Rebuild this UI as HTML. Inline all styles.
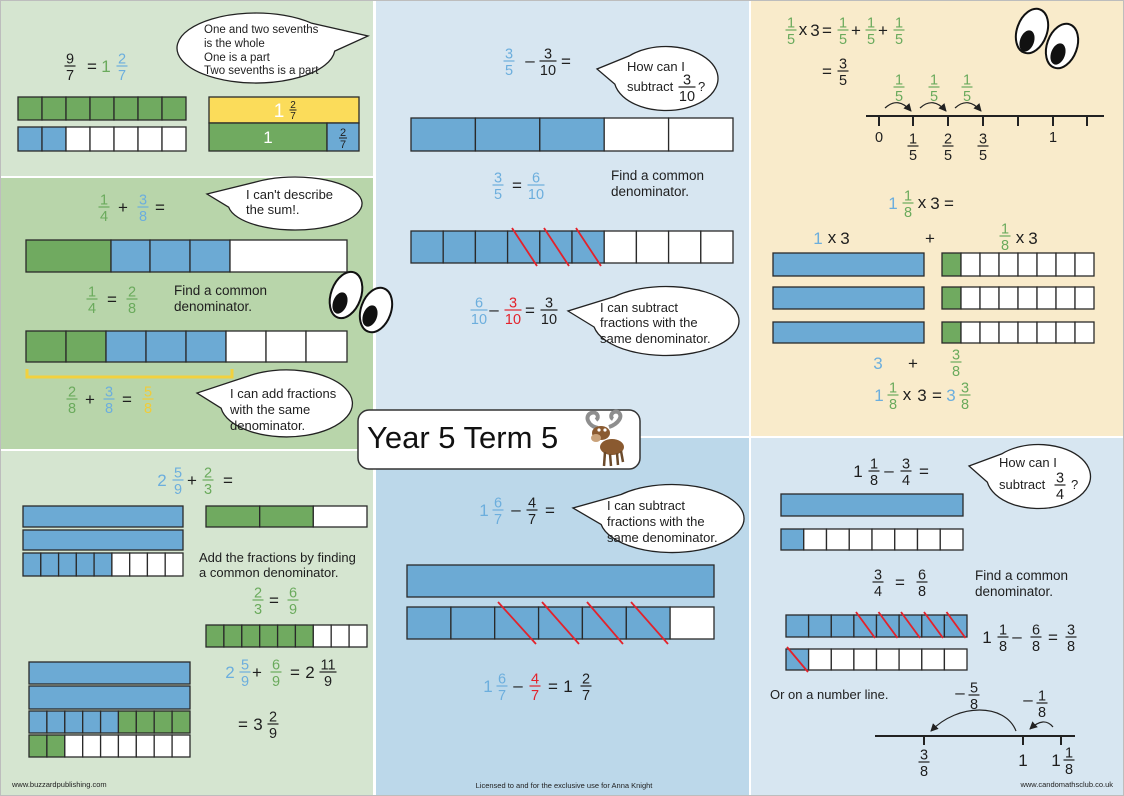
<!DOCTYPE html>
<html><head><meta charset="utf-8">
<style>
html,body{margin:0;padding:0;background:#fff;}
svg{display:block}
text{font-family:"Liberation Sans",sans-serif;}
.f{font-size:14.5px;text-anchor:middle}
.o{font-size:17px;text-anchor:middle}
.t{font-size:13px;fill:#1e1e1e}
.g{fill:#6aaa5c}.b{fill:#6caedd}.k{fill:#1e1e1e}.r{fill:#e3222b}.y{fill:#f0cc3a}.w{fill:#fff}
.c rect{stroke:#2a2a2a;stroke-width:1.3}
.G{fill:#70aa60}.B{fill:#6caad4}.W{fill:#fff}
.s line{stroke:#e3222b;stroke-width:1.8}
.bub{fill:#fff;stroke:#222;stroke-width:1.3}
.eye{fill:#fff;stroke:#111;stroke-width:2}
.ln{stroke:#222;stroke-width:2;fill:none}
.ar{stroke:#222;stroke-width:1.2;fill:none}
</style></head><body>
<svg width="1124" height="796" viewBox="0 0 1124 796" xmlns="http://www.w3.org/2000/svg">
<defs>
<marker id="ah" markerWidth="8" markerHeight="8" refX="7" refY="4" orient="auto" markerUnits="userSpaceOnUse"><path d="M0,0 L8,4 L0,8 Z" fill="#222"/></marker>
</defs>
<!-- panels -->
<rect x="0" y="0" width="373" height="176" fill="#d5e5d0"/>
<rect x="0" y="178" width="373" height="271" fill="#b8d5aa"/>
<rect x="0" y="451" width="373" height="345" fill="#d5e5d0"/>
<rect x="376" y="0" width="373" height="436" fill="#d7e6f1"/>
<rect x="376" y="438" width="373" height="358" fill="#bcd8ea"/>
<rect x="751" y="0" width="373" height="436" fill="#f9ebcb"/>
<rect x="751" y="438" width="373" height="358" fill="#d7e6f1"/>
<rect x="0.5" y="0.5" width="1123" height="795" fill="none" stroke="#bdbdbd" stroke-width="1"/>

<!-- ===== TOP LEFT ===== -->
<g class="k f"><text x="70" y="63.5">9</text><rect x="64.5" y="65.4" width="11" height="1.2"/><text x="70" y="80">7</text></g>
<text class="o k" x="92" y="72">=</text>
<text class="o g" x="106" y="72">1</text>
<g class="b f"><text x="122" y="63.5">2</text><rect x="116.5" y="65.4" width="11" height="1.2"/><text x="122" y="80">7</text></g>

<path class="bub" d="M311.9 23.3 A79 35 0 1 0 334.7 51.1 L368 36 Z"/>
<g class="t" style="font-size:11.5px">
<text x="204" y="33">One and two sevenths</text>
<text x="204" y="47">is the whole</text>
<text x="204" y="61">One is a part</text>
<text x="204" y="74">Two sevenths is a part</text>
</g>

<g class="c">
<rect class="G" x="18" y="97" width="24" height="23"/><rect class="G" x="42" y="97" width="24" height="23"/><rect class="G" x="66" y="97" width="24" height="23"/><rect class="G" x="90" y="97" width="24" height="23"/><rect class="G" x="114" y="97" width="24" height="23"/><rect class="G" x="138" y="97" width="24" height="23"/><rect class="G" x="162" y="97" width="24" height="23"/>
<rect class="B" x="18" y="127" width="24" height="24"/><rect class="B" x="42" y="127" width="24" height="24"/><rect class="W" x="66" y="127" width="24" height="24"/><rect class="W" x="90" y="127" width="24" height="24"/><rect class="W" x="114" y="127" width="24" height="24"/><rect class="W" x="138" y="127" width="24" height="24"/><rect class="W" x="162" y="127" width="24" height="24"/>
<rect x="209" y="97" width="150" height="26" fill="#fbdc5a"/>
<rect class="G" x="209" y="123" width="118" height="28"/>
<rect class="B" x="327" y="123" width="32" height="28"/>
</g>
<text class="w" x="279" y="117" style="font-size:19px;text-anchor:middle">1</text>
<g class="k" style="font-size:10px;text-anchor:middle"><text x="293" y="108">2</text><rect x="289.5" y="109.5" width="7" height="1"/><text x="293" y="119">7</text></g>
<text class="w" x="268" y="143" style="font-size:17px;text-anchor:middle">1</text>
<g class="k" style="font-size:11px;text-anchor:middle"><text x="343" y="136">2</text><rect x="339" y="137.5" width="8" height="1"/><text x="343" y="148">7</text></g>

<!-- ===== MIDDLE LEFT ===== -->
<g class="g f"><text x="104" y="204.5">1</text><rect x="98.5" y="206.4" width="11" height="1.2"/><text x="104" y="221">4</text></g>
<text class="o k" x="123" y="213">+</text>
<g class="b f"><text x="143" y="204.5">3</text><rect x="137.5" y="206.4" width="11" height="1.2"/><text x="143" y="221">8</text></g>
<text class="o k" x="160" y="213">=</text>

<path class="bub" d="M228.7 207.2 A67 26.5 0 1 0 256.6 181.8 L207 194 Z"/>
<g class="t"><text x="246" y="199">I can't describe</text><text x="246" y="214">the sum!.</text></g>

<g class="c">
<rect class="G" x="26" y="240" width="85" height="32"/><rect class="B" x="111" y="240" width="39" height="32"/><rect class="B" x="150" y="240" width="40" height="32"/><rect class="B" x="190" y="240" width="40" height="32"/><rect class="W" x="230" y="240" width="117" height="32"/>
</g>

<g class="g f"><text x="92" y="296.5">1</text><rect x="86.5" y="298.4" width="11" height="1.2"/><text x="92" y="313">4</text></g>
<text class="o k" x="112" y="305">=</text>
<g class="g f"><text x="132" y="296.5">2</text><rect x="126.5" y="298.4" width="11" height="1.2"/><text x="132" y="313">8</text></g>
<g class="t" style="font-size:13.5px"><text x="174" y="295">Find a common</text><text x="174" y="311">denominator.</text></g>

<g class="c">
<rect class="G" x="26" y="331" width="40" height="31"/><rect class="G" x="66" y="331" width="40" height="31"/><rect class="B" x="106" y="331" width="40" height="31"/><rect class="B" x="146" y="331" width="40" height="31"/><rect class="B" x="186" y="331" width="40" height="31"/><rect class="W" x="226" y="331" width="40" height="31"/><rect class="W" x="266" y="331" width="40" height="31"/><rect class="W" x="306" y="331" width="41" height="31"/>
</g>
<path d="M27 369 V377 H232 V369" fill="none" stroke="#f2d13f" stroke-width="3"/>

<g class="g f"><text x="72" y="396.5">2</text><rect x="66.5" y="398.4" width="11" height="1.2"/><text x="72" y="413">8</text></g>
<text class="o k" x="90" y="405">+</text>
<g class="b f"><text x="109" y="396.5">3</text><rect x="103.5" y="398.4" width="11" height="1.2"/><text x="109" y="413">8</text></g>
<text class="o k" x="127" y="405">=</text>
<g class="y f"><text x="148" y="396.5">5</text><rect x="142.5" y="398.4" width="11" height="1.2"/><text x="148" y="413">8</text></g>

<path class="bub" d="M221.1 408.2 A66 33.5 0 1 0 248.2 376.1 L197 393 Z"/>
<g class="t"><text x="230" y="398">I can add fractions</text><text x="230" y="414">with the same</text><text x="230" y="430">denominator.</text></g>

<!-- ===== BOTTOM LEFT ===== -->
<text class="o b" x="162" y="486">2</text>
<g class="b f"><text x="178" y="477.5">5</text><rect x="172.5" y="479.4" width="11" height="1.2"/><text x="178" y="494">9</text></g>
<text class="o k" x="192" y="486">+</text>
<g class="g f"><text x="208" y="477.5">2</text><rect x="202.5" y="479.4" width="11" height="1.2"/><text x="208" y="494">3</text></g>
<text class="o k" x="228" y="486">=</text>

<g class="c">
<rect class="B" x="23" y="506" width="160" height="21"/>
<rect class="B" x="23" y="530" width="160" height="20"/>
<rect class="B" x="23" y="553" width="17.8" height="23"/><rect class="B" x="40.8" y="553" width="17.8" height="23"/><rect class="B" x="58.6" y="553" width="17.8" height="23"/><rect class="B" x="76.3" y="553" width="17.8" height="23"/><rect class="B" x="94.1" y="553" width="17.8" height="23"/><rect class="W" x="111.9" y="553" width="17.8" height="23"/><rect class="W" x="129.7" y="553" width="17.8" height="23"/><rect class="W" x="147.4" y="553" width="17.8" height="23"/><rect class="W" x="165.2" y="553" width="17.8" height="23"/>
<rect class="G" x="206" y="506" width="53.7" height="21"/><rect class="G" x="259.7" y="506" width="53.6" height="21"/><rect class="W" x="313.3" y="506" width="53.7" height="21"/>
<rect class="G" x="206" y="625" width="17.9" height="22"/><rect class="G" x="223.9" y="625" width="17.9" height="22"/><rect class="G" x="241.8" y="625" width="17.9" height="22"/><rect class="G" x="259.7" y="625" width="17.9" height="22"/><rect class="G" x="277.6" y="625" width="17.9" height="22"/><rect class="G" x="295.4" y="625" width="17.9" height="22"/><rect class="W" x="313.3" y="625" width="17.9" height="22"/><rect class="W" x="331.2" y="625" width="17.9" height="22"/><rect class="W" x="349.1" y="625" width="17.9" height="22"/>
<rect class="B" x="29" y="662" width="161" height="22"/>
<rect class="B" x="29" y="686" width="161" height="23"/>
<rect class="B" x="29" y="711" width="17.9" height="22"/><rect class="B" x="46.9" y="711" width="17.9" height="22"/><rect class="B" x="64.8" y="711" width="17.9" height="22"/><rect class="B" x="82.7" y="711" width="17.9" height="22"/><rect class="B" x="100.6" y="711" width="17.9" height="22"/><rect class="G" x="118.4" y="711" width="17.9" height="22"/><rect class="G" x="136.3" y="711" width="17.9" height="22"/><rect class="G" x="154.2" y="711" width="17.9" height="22"/><rect class="G" x="172.1" y="711" width="17.9" height="22"/>
<rect class="G" x="29" y="735" width="17.9" height="22"/><rect class="G" x="46.9" y="735" width="17.9" height="22"/><rect class="W" x="64.8" y="735" width="17.9" height="22"/><rect class="W" x="82.7" y="735" width="17.9" height="22"/><rect class="W" x="100.6" y="735" width="17.9" height="22"/><rect class="W" x="118.4" y="735" width="17.9" height="22"/><rect class="W" x="136.3" y="735" width="17.9" height="22"/><rect class="W" x="154.2" y="735" width="17.9" height="22"/><rect class="W" x="172.1" y="735" width="17.9" height="22"/>
</g>

<g class="t"><text x="199" y="562">Add the fractions by finding</text><text x="199" y="577">a common denominator.</text></g>

<g class="g f"><text x="258" y="597.5">2</text><rect x="252.5" y="599.4" width="11" height="1.2"/><text x="258" y="614">3</text></g>
<text class="o k" x="274" y="606">=</text>
<g class="g f"><text x="293" y="597.5">6</text><rect x="287.5" y="599.4" width="11" height="1.2"/><text x="293" y="614">9</text></g>

<text class="o b" x="230" y="678">2</text>
<g class="b f"><text x="245" y="669.5">5</text><rect x="239.5" y="671.4" width="11" height="1.2"/><text x="245" y="686">9</text></g>
<text class="o k" x="257" y="678">+</text>
<g class="g f"><text x="276" y="669.5">6</text><rect x="270.5" y="671.4" width="11" height="1.2"/><text x="276" y="686">9</text></g>
<text class="o k" x="295" y="678">=</text>
<text class="o k" x="310" y="678">2</text>
<g class="k f"><text x="328" y="669.5">11</text><rect x="319.5" y="671.4" width="17" height="1.2"/><text x="328" y="686">9</text></g>

<text class="o k" x="243" y="730">=</text>
<text class="o k" x="258" y="730">3</text>
<g class="k f"><text x="273" y="721.5">2</text><rect x="267.5" y="723.4" width="11" height="1.2"/><text x="273" y="738">9</text></g>

<text x="12" y="787" style="font-size:7.5px;fill:#222">www.buzzardpublishing.com</text>

<!-- ===== TOP MIDDLE ===== -->
<g class="b f"><text x="509" y="58.5">3</text><rect x="503.5" y="60.4" width="11" height="1.2"/><text x="509" y="75">5</text></g>
<text class="o k" x="530" y="66">–</text>
<g class="k f"><text x="548" y="58.5">3</text><rect x="539.5" y="60.4" width="17" height="1.2"/><text x="548" y="75">10</text></g>
<text class="o k" x="566" y="67">=</text>

<path class="bub" d="M614.8 84.1 A52 32 0 1 0 629.2 55.9 L597 69 Z"/>
<g class="t"><text x="627" y="71">How can I</text><text x="627" y="91">subtract</text><text x="698" y="91">?</text></g>
<g class="k f"><text x="687" y="84.5">3</text><rect x="678.5" y="86.4" width="17" height="1.2"/><text x="687" y="101">10</text></g>

<g class="c">
<rect class="B" x="411" y="118" width="64.4" height="33"/><rect class="B" x="475.4" y="118" width="64.4" height="33"/><rect class="B" x="539.8" y="118" width="64.4" height="33"/><rect class="W" x="604.2" y="118" width="64.4" height="33"/><rect class="W" x="668.6" y="118" width="64.4" height="33"/>
</g>

<g class="b f"><text x="498" y="182.5">3</text><rect x="492.5" y="184.4" width="11" height="1.2"/><text x="498" y="199">5</text></g>
<text class="o k" x="517" y="191">=</text>
<g class="b f"><text x="536" y="182.5">6</text><rect x="527.5" y="184.4" width="17" height="1.2"/><text x="536" y="199">10</text></g>
<g class="t" style="font-size:13.5px"><text x="611" y="180">Find a common</text><text x="611" y="196">denominator.</text></g>

<g class="c">
<rect class="B" x="411" y="231" width="32.2" height="32"/><rect class="B" x="443.2" y="231" width="32.2" height="32"/><rect class="B" x="475.4" y="231" width="32.2" height="32"/><rect class="B" x="507.6" y="231" width="32.2" height="32"/><rect class="B" x="539.8" y="231" width="32.2" height="32"/><rect class="B" x="572" y="231" width="32.2" height="32"/><rect class="W" x="604.2" y="231" width="32.2" height="32"/><rect class="W" x="636.4" y="231" width="32.2" height="32"/><rect class="W" x="668.6" y="231" width="32.2" height="32"/><rect class="W" x="700.8" y="231" width="32.2" height="32"/>
</g>
<g class="s"><line x1="512" y1="228" x2="537" y2="266"/><line x1="544" y1="228" x2="569" y2="266"/><line x1="576" y1="228" x2="601" y2="266"/></g>

<g class="b f"><text x="479" y="307.5">6</text><rect x="470.5" y="309.4" width="17" height="1.2"/><text x="479" y="324">10</text></g>
<text class="o k" x="494" y="315">–</text>
<g class="r f"><text x="513" y="307.5">3</text><rect x="504.5" y="309.4" width="17" height="1.2"/><text x="513" y="324">10</text></g>
<text class="o k" x="530" y="316">=</text>
<g class="k f"><text x="549" y="307.5">3</text><rect x="540.5" y="309.4" width="17" height="1.2"/><text x="549" y="324">10</text></g>

<path class="bub" d="M594.1 327 A73 34.5 0 1 0 614.4 296.6 L568 311 Z"/>
<g class="t"><text x="600" y="312">I can subtract</text><text x="600" y="327">fractions with the</text><text x="600" y="343">same denominator.</text></g>

<!-- ===== BOTTOM MIDDLE ===== -->
<text class="o b" x="484" y="516">1</text>
<g class="b f"><text x="498" y="507.5">6</text><rect x="492.5" y="509.4" width="11" height="1.2"/><text x="498" y="524">7</text></g>
<text class="o k" x="516" y="515">–</text>
<g class="k f"><text x="532" y="507.5">4</text><rect x="526.5" y="509.4" width="11" height="1.2"/><text x="532" y="524">7</text></g>
<text class="o k" x="550" y="516">=</text>

<path class="bub" d="M601.1 524.4 A72 34 0 1 0 621.1 494.5 L573 508 Z"/>
<g class="t"><text x="607" y="510">I can subtract</text><text x="607" y="526">fractions with the</text><text x="607" y="542">same denominator.</text></g>

<g class="c">
<rect class="B" x="407" y="565" width="307" height="32"/>
<rect class="B" x="407" y="607" width="43.9" height="32"/><rect class="B" x="450.9" y="607" width="43.8" height="32"/><rect class="B" x="494.7" y="607" width="43.9" height="32"/><rect class="B" x="538.6" y="607" width="43.8" height="32"/><rect class="B" x="582.4" y="607" width="43.9" height="32"/><rect class="B" x="626.3" y="607" width="43.8" height="32"/><rect class="W" x="670.1" y="607" width="43.9" height="32"/>
</g>
<g class="s"><line x1="498" y1="602" x2="536" y2="644"/><line x1="542" y1="602" x2="579" y2="644"/><line x1="587" y1="602" x2="623" y2="644"/><line x1="631" y1="602" x2="668" y2="644"/></g>

<text class="o b" x="488" y="692">1</text>
<g class="b f"><text x="502" y="683.5">6</text><rect x="496.5" y="685.4" width="11" height="1.2"/><text x="502" y="700">7</text></g>
<text class="o k" x="518" y="691">–</text>
<g class="r f"><text x="535" y="683.5">4</text><rect x="529.5" y="685.4" width="11" height="1.2"/><text x="535" y="700">7</text></g>
<text class="o k" x="553" y="692">=</text>
<text class="o k" x="568" y="692">1</text>
<g class="k f"><text x="586" y="683.5">2</text><rect x="580.5" y="685.4" width="11" height="1.2"/><text x="586" y="700">7</text></g>

<text x="564" y="788" style="font-size:7.5px;fill:#222;text-anchor:middle">Licensed to and for the exclusive use for Anna Knight</text>

<!-- ===== TOP RIGHT ===== -->
<g class="g f"><text x="791" y="27.5">1</text><rect x="785.5" y="29.4" width="11" height="1.2"/><text x="791" y="44">5</text></g>
<text class="o k" x="803" y="35">x</text>
<text class="o k" x="815" y="36">3</text>
<text class="o k" x="827" y="36">=</text>
<g class="g f"><text x="843" y="27.5">1</text><rect x="837.5" y="29.4" width="11" height="1.2"/><text x="843" y="44">5</text></g>
<text class="o k" x="856" y="36">+</text>
<g class="g f"><text x="871" y="27.5">1</text><rect x="865.5" y="29.4" width="11" height="1.2"/><text x="871" y="44">5</text></g>
<text class="o k" x="883" y="36">+</text>
<g class="g f"><text x="899" y="27.5">1</text><rect x="893.5" y="29.4" width="11" height="1.2"/><text x="899" y="44">5</text></g>

<text class="o k" x="827" y="77">=</text>
<g class="k f"><text x="843" y="68.5">3</text><rect x="837.5" y="70.4" width="11" height="1.2"/><text x="843" y="85">5</text></g>

<g class="g f"><text x="899" y="84.5">1</text><rect x="893.5" y="86.4" width="11" height="1.2"/><text x="899" y="101">5</text></g>
<g class="g f"><text x="934" y="84.5">1</text><rect x="928.5" y="86.4" width="11" height="1.2"/><text x="934" y="101">5</text></g>
<g class="g f"><text x="967" y="84.5">1</text><rect x="961.5" y="86.4" width="11" height="1.2"/><text x="967" y="101">5</text></g>

<path class="ar" d="M885 108 Q898 96 911 111" marker-end="url(#ah)"/>
<path class="ar" d="M920 108 Q933 96 946 111" marker-end="url(#ah)"/>
<path class="ar" d="M955 108 Q968 96 981 111" marker-end="url(#ah)"/>

<line class="ln" x1="866" y1="116" x2="1104" y2="116"/>
<g class="ln"><line x1="879" y1="116" x2="879" y2="126"/><line x1="913" y1="116" x2="913" y2="126"/><line x1="948" y1="116" x2="948" y2="126"/><line x1="983" y1="116" x2="983" y2="126"/><line x1="1018" y1="116" x2="1018" y2="126"/><line x1="1053" y1="116" x2="1053" y2="126"/><line x1="1087" y1="116" x2="1087" y2="126"/></g>
<text class="k f" x="879" y="142">0</text>
<g class="k f"><text x="913" y="143.5">1</text><rect x="907.5" y="145.4" width="11" height="1.2"/><text x="913" y="160">5</text></g>
<g class="k f"><text x="948" y="143.5">2</text><rect x="942.5" y="145.4" width="11" height="1.2"/><text x="948" y="160">5</text></g>
<g class="k f"><text x="983" y="143.5">3</text><rect x="977.5" y="145.4" width="11" height="1.2"/><text x="983" y="160">5</text></g>
<text class="k f" x="1053" y="142">1</text>

<!-- eyes TR -->
<ellipse class="eye" cx="1032" cy="31" rx="15" ry="23" transform="rotate(20 1032 31)"/>
<ellipse cx="1027" cy="41" rx="7" ry="11" transform="rotate(20 1027 41)" fill="#111"/>
<ellipse class="eye" cx="1062" cy="46" rx="15" ry="23" transform="rotate(20 1062 46)"/>
<ellipse cx="1058" cy="54" rx="7" ry="11" transform="rotate(20 1058 54)" fill="#111"/>

<text class="o b" x="893" y="209">1</text>
<g class="g f"><text x="908" y="200.5">1</text><rect x="902.5" y="202.4" width="11" height="1.2"/><text x="908" y="217">8</text></g>
<text class="o k" x="922" y="208">x</text>
<text class="o k" x="935" y="209">3</text>
<text class="o k" x="949" y="209">=</text>

<text class="o b" x="818" y="244">1</text>
<text class="o k" x="832" y="243">x</text>
<text class="o k" x="845" y="244">3</text>
<text class="o k" x="930" y="244">+</text>
<g class="g f"><text x="1005" y="233.5">1</text><rect x="999.5" y="235.4" width="11" height="1.2"/><text x="1005" y="250">8</text></g>
<text class="o k" x="1020" y="243">x</text>
<text class="o k" x="1033" y="244">3</text>

<g class="c">
<rect class="B" x="773" y="253" width="151" height="23"/>
<rect class="B" x="773" y="287" width="151" height="22"/>
<rect class="B" x="773" y="322" width="151" height="21"/>
<rect class="G" x="942" y="253" width="19" height="23"/><rect class="W" x="961" y="253" width="19" height="23"/><rect class="W" x="980" y="253" width="19" height="23"/><rect class="W" x="999" y="253" width="19" height="23"/><rect class="W" x="1018" y="253" width="19" height="23"/><rect class="W" x="1037" y="253" width="19" height="23"/><rect class="W" x="1056" y="253" width="19" height="23"/><rect class="W" x="1075" y="253" width="19" height="23"/>
<rect class="G" x="942" y="287" width="19" height="22"/><rect class="W" x="961" y="287" width="19" height="22"/><rect class="W" x="980" y="287" width="19" height="22"/><rect class="W" x="999" y="287" width="19" height="22"/><rect class="W" x="1018" y="287" width="19" height="22"/><rect class="W" x="1037" y="287" width="19" height="22"/><rect class="W" x="1056" y="287" width="19" height="22"/><rect class="W" x="1075" y="287" width="19" height="22"/>
<rect class="G" x="942" y="322" width="19" height="21"/><rect class="W" x="961" y="322" width="19" height="21"/><rect class="W" x="980" y="322" width="19" height="21"/><rect class="W" x="999" y="322" width="19" height="21"/><rect class="W" x="1018" y="322" width="19" height="21"/><rect class="W" x="1037" y="322" width="19" height="21"/><rect class="W" x="1056" y="322" width="19" height="21"/><rect class="W" x="1075" y="322" width="19" height="21"/>
</g>

<text class="o b" x="878" y="369">3</text>
<text class="o k" x="913" y="369">+</text>
<g class="g f"><text x="956" y="359.5">3</text><rect x="950.5" y="361.4" width="11" height="1.2"/><text x="956" y="376">8</text></g>

<text class="o b" x="879" y="401">1</text>
<g class="g f"><text x="893" y="392.5">1</text><rect x="887.5" y="394.4" width="11" height="1.2"/><text x="893" y="409">8</text></g>
<text class="o k" x="907" y="400">x</text>
<text class="o k" x="922" y="401">3</text>
<text class="o k" x="937" y="401">=</text>
<text class="o b" x="951" y="401">3</text>
<g class="g f"><text x="965" y="392.5">3</text><rect x="959.5" y="394.4" width="11" height="1.2"/><text x="965" y="409">8</text></g>

<!-- ===== BOTTOM RIGHT ===== -->
<text class="o k" x="858" y="477">1</text>
<g class="k f"><text x="874" y="468.5">1</text><rect x="868.5" y="470.4" width="11" height="1.2"/><text x="874" y="485">8</text></g>
<text class="o k" x="889" y="476">–</text>
<g class="k f"><text x="906" y="468.5">3</text><rect x="900.5" y="470.4" width="11" height="1.2"/><text x="906" y="485">4</text></g>
<text class="o k" x="924" y="477">=</text>

<path class="bub" d="M987.3 482.1 A52 32 0 1 0 1001.7 453.9 L969 466 Z"/>
<g class="t"><text x="999" y="467">How can I</text><text x="999" y="489">subtract</text><text x="1071" y="489">?</text></g>
<g class="k f"><text x="1060" y="482.5">3</text><rect x="1054.5" y="484.4" width="11" height="1.2"/><text x="1060" y="499">4</text></g>

<g class="c">
<rect class="B" x="781" y="494" width="182" height="22"/>
<rect class="B" x="781" y="529" width="22.75" height="21"/><rect class="W" x="803.75" y="529" width="22.75" height="21"/><rect class="W" x="826.5" y="529" width="22.75" height="21"/><rect class="W" x="849.25" y="529" width="22.75" height="21"/><rect class="W" x="872" y="529" width="22.75" height="21"/><rect class="W" x="894.75" y="529" width="22.75" height="21"/><rect class="W" x="917.5" y="529" width="22.75" height="21"/><rect class="W" x="940.25" y="529" width="22.75" height="21"/>
</g>

<g class="k f"><text x="878" y="579.5">3</text><rect x="872.5" y="581.4" width="11" height="1.2"/><text x="878" y="596">4</text></g>
<text class="o k" x="900" y="588">=</text>
<g class="k f"><text x="922" y="579.5">6</text><rect x="916.5" y="581.4" width="11" height="1.2"/><text x="922" y="596">8</text></g>
<g class="t" style="font-size:13.5px"><text x="975" y="580">Find a common</text><text x="975" y="596">denominator.</text></g>

<g class="c">
<rect class="B" x="786" y="615" width="22.6" height="22"/><rect class="B" x="808.6" y="615" width="22.7" height="22"/><rect class="B" x="831.3" y="615" width="22.6" height="22"/><rect class="B" x="853.9" y="615" width="22.6" height="22"/><rect class="B" x="876.5" y="615" width="22.6" height="22"/><rect class="B" x="899.1" y="615" width="22.7" height="22"/><rect class="B" x="921.8" y="615" width="22.6" height="22"/><rect class="B" x="944.4" y="615" width="22.6" height="22"/>
<rect class="B" x="786" y="649" width="22.6" height="21"/><rect class="W" x="808.6" y="649" width="22.7" height="21"/><rect class="W" x="831.3" y="649" width="22.6" height="21"/><rect class="W" x="853.9" y="649" width="22.6" height="21"/><rect class="W" x="876.5" y="649" width="22.6" height="21"/><rect class="W" x="899.1" y="649" width="22.7" height="21"/><rect class="W" x="921.8" y="649" width="22.6" height="21"/><rect class="W" x="944.4" y="649" width="22.6" height="21"/>
</g>
<g class="s"><line x1="856" y1="612" x2="875" y2="638"/><line x1="878.5" y1="612" x2="897.5" y2="638"/><line x1="901" y1="612" x2="920" y2="638"/><line x1="924" y1="612" x2="943" y2="638"/><line x1="946.5" y1="612" x2="965.5" y2="638"/><line x1="787" y1="647" x2="808" y2="672"/></g>

<text class="o k" x="987" y="643">1</text>
<g class="k f"><text x="1003" y="634.5">1</text><rect x="997.5" y="636.4" width="11" height="1.2"/><text x="1003" y="651">8</text></g>
<text class="o k" x="1017" y="642">–</text>
<g class="k f"><text x="1036" y="634.5">6</text><rect x="1030.5" y="636.4" width="11" height="1.2"/><text x="1036" y="651">8</text></g>
<text class="o k" x="1053" y="643">=</text>
<g class="k f"><text x="1071" y="634.5">3</text><rect x="1065.5" y="636.4" width="11" height="1.2"/><text x="1071" y="651">8</text></g>

<text class="t" x="770" y="699">Or on a number line.</text>

<text class="o k" x="960" y="698">–</text>
<g class="k f"><text x="974" y="692.5">5</text><rect x="968.5" y="694.4" width="11" height="1.2"/><text x="974" y="709">8</text></g>
<text class="o k" x="1028" y="705">–</text>
<g class="k f"><text x="1042" y="700.5">1</text><rect x="1036.5" y="702.4" width="11" height="1.2"/><text x="1042" y="717">8</text></g>

<path class="ar" d="M1016 731 C1005 703 958 703 931 731" marker-end="url(#ah)"/>
<path class="ar" d="M1053 727 Q1044 716 1030 729" marker-end="url(#ah)"/>

<line class="ln" x1="875" y1="736" x2="1075" y2="736"/>
<g class="ln"><line x1="924" y1="736" x2="924" y2="745"/><line x1="1023" y1="736" x2="1023" y2="745"/><line x1="1061" y1="736" x2="1061" y2="745"/></g>
<g class="k f"><text x="924" y="759.5">3</text><rect x="918.5" y="761.4" width="11" height="1.2"/><text x="924" y="776">8</text></g>
<text class="o k" x="1023" y="766">1</text>
<text class="o k" x="1056" y="766">1</text>
<g class="k f"><text x="1069" y="757.5">1</text><rect x="1063.5" y="759.4" width="11" height="1.2"/><text x="1069" y="774">8</text></g>

<text x="1113" y="787" style="font-size:7.5px;fill:#222;text-anchor:end">www.candomathsclub.co.uk</text>

<!-- eyes ML (over panel boundary) -->
<ellipse class="eye" cx="346" cy="295" rx="15" ry="24" transform="rotate(20 346 295)"/>
<ellipse cx="340" cy="303" rx="7" ry="11" transform="rotate(20 340 303)" fill="#111"/>
<ellipse class="eye" cx="376" cy="310" rx="15" ry="23" transform="rotate(20 376 310)"/>
<ellipse cx="370" cy="316" rx="7" ry="11" transform="rotate(20 370 316)" fill="#111"/>

<!-- ===== TITLE ===== -->
<rect x="358" y="410" width="282" height="59" rx="11" ry="11" fill="#fff" stroke="#333" stroke-width="1.5"/>
<text x="367" y="448" style="font-size:31px;fill:#111">Year 5 Term 5</text>
<!-- goat -->
<g>
<path d="M598 428 C588 426 584 416 591 413 C597 411 600 417 596 420" fill="none" stroke="#8e8e8e" stroke-width="4"/>
<path d="M609 427 C618 424 624 416 618 412 C612 410 609 417 613 419" fill="none" stroke="#8e8e8e" stroke-width="4"/>
<ellipse cx="612" cy="447" rx="12" ry="8" fill="#8a5a30"/>
<ellipse cx="601" cy="433" rx="9" ry="7" fill="#8a5a30"/>
<ellipse cx="596" cy="438" rx="5" ry="4" fill="#c9a27a"/>
<circle cx="599" cy="430" r="1.6" fill="#fff"/><circle cx="605" cy="430" r="1.6" fill="#fff"/>
<g stroke="#6b4a2a" stroke-width="2.5"><line x1="605" y1="452" x2="604" y2="466"/><line x1="610" y1="454" x2="611" y2="466"/><line x1="617" y1="453" x2="618" y2="465"/><line x1="621" y1="451" x2="623" y2="462"/></g>
</g>
</svg>
</body></html>
